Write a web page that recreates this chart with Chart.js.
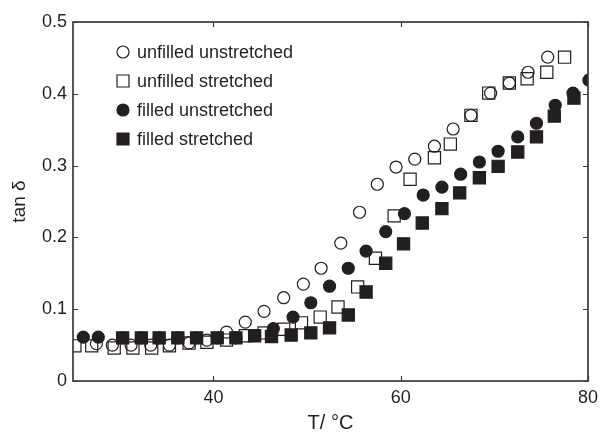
<!DOCTYPE html>
<html lang="en">
<head>
<meta charset="UTF-8">
<title>tan δ vs temperature</title>
<script src="https://cdn.jsdelivr.net/npm/chart.js@4.4.0/dist/chart.umd.min.js"></script>
<style>
    html, body {
        margin: 0;
        padding: 0;
        background: #ffffff;
    }
    #wrap {
        width: 604px;
        height: 435px;
    }
</style>
</head>
<body>
<div id="wrap"><canvas id="tanChart" width="604" height="435"></canvas></div>
<script>
    // tan delta readings per sample, temperature in °C
    const seriesLabels = ['unfilled unstretched', 'unfilled stretched', 'filled unstretched', 'filled stretched'];

    const tUnfilledUnstr = [27.5, 29.2, 31.2, 33.3, 35.3, 37.4, 39.3, 41.4, 43.4, 45.4, 47.5, 49.6, 51.5, 53.6, 55.6, 57.5, 59.5, 61.5, 63.6, 65.6, 67.5, 69.6, 71.6, 73.6, 75.7];
    const tanUnfilledUnstr = [0.052, 0.050, 0.050, 0.050, 0.050, 0.053, 0.057, 0.068, 0.082, 0.097, 0.116, 0.135, 0.157, 0.192, 0.235, 0.274, 0.298, 0.309, 0.327, 0.351, 0.370, 0.401, 0.415, 0.430, 0.451];

    const tUnfilledStr = [25.2, 27.0, 29.4, 31.4, 33.4, 35.3, 37.4, 39.3, 41.4, 43.4, 45.4, 47.5, 49.4, 51.4, 53.3, 55.4, 57.3, 59.3, 61.0, 63.6, 65.3, 67.5, 69.4, 71.6, 73.5, 75.6, 77.5];
    const tanUnfilledStr = [0.049, 0.049, 0.046, 0.046, 0.046, 0.049, 0.053, 0.054, 0.057, 0.063, 0.067, 0.072, 0.081, 0.089, 0.103, 0.131, 0.171, 0.230, 0.281, 0.311, 0.330, 0.370, 0.401, 0.415, 0.421, 0.430, 0.451];

    const tFilledUnstr = [26.1, 27.7, 30.3, 32.3, 34.2, 36.2, 38.2, 40.4, 42.4, 44.4, 46.4, 48.5, 50.4, 52.4, 54.4, 56.3, 58.4, 60.4, 62.4, 64.4, 66.4, 68.4, 70.4, 72.5, 74.5, 76.5, 78.4, 80.1];
    const tanFilledUnstr = [0.061, 0.061, 0.060, 0.060, 0.060, 0.060, 0.060, 0.060, 0.060, 0.063, 0.073, 0.089, 0.109, 0.132, 0.157, 0.181, 0.208, 0.233, 0.259, 0.270, 0.288, 0.305, 0.320, 0.340, 0.359, 0.384, 0.401, 0.419];

    const tFilledStr = [30.3, 32.3, 34.2, 36.2, 38.2, 40.4, 42.4, 44.4, 46.2, 48.3, 50.4, 52.4, 54.4, 56.3, 58.4, 60.3, 62.3, 64.4, 66.3, 68.4, 70.4, 72.5, 74.5, 76.4, 78.5];
    const tanFilledStr = [0.060, 0.060, 0.060, 0.060, 0.060, 0.060, 0.060, 0.063, 0.062, 0.064, 0.067, 0.074, 0.092, 0.124, 0.164, 0.191, 0.220, 0.240, 0.262, 0.283, 0.299, 0.319, 0.340, 0.369, 0.394];

    const xTicks = [40, 60, 80];
    const yTicks = [0, 0.1, 0.2, 0.3, 0.4, 0.5];

    const ink = '#231f20';
    const frameColor = '#3a3a3a';
    const fontFamily = '"Liberation Sans", Arial, Helvetica, sans-serif';

    function pairs(xs, ys) {
        return xs.map((x, i) => ({ x: x, y: ys[i] }));
    }

    // frame around the plot plus short inward ticks on all four sides
    const frameTicks = {
        id: 'frameTicks',
        afterDatasetsDraw(chart) {
            const { ctx, chartArea: a, scales } = chart;
            const len = 5;
            ctx.save();
            ctx.strokeStyle = frameColor;
            ctx.lineWidth = 1.2;
            ctx.beginPath();
            scales.x.ticks.forEach(t => {
                const px = Math.round(scales.x.getPixelForValue(t.value)) + 0.5;
                ctx.moveTo(px, a.bottom); ctx.lineTo(px, a.bottom - len);
                ctx.moveTo(px, a.top); ctx.lineTo(px, a.top + len);
            });
            scales.y.ticks.forEach(t => {
                const py = Math.round(scales.y.getPixelForValue(t.value)) + 0.5;
                ctx.moveTo(a.left, py); ctx.lineTo(a.left + len, py);
                ctx.moveTo(a.right, py); ctx.lineTo(a.right - len, py);
            });
            ctx.stroke();
            ctx.lineWidth = 1.7;
            ctx.strokeRect(a.left, a.top, a.right - a.left, a.bottom - a.top);
            ctx.restore();
        }
    };

    // legend in the upper left corner of the plot
    const innerLegend = {
        id: 'innerLegend',
        afterDraw(chart) {
            const ctx = chart.ctx;
            const mx = 123, tx = 137, y0 = 52, step = 29;
            ctx.save();
            ctx.font = '18px ' + fontFamily;
            ctx.textBaseline = 'middle';
            ctx.textAlign = 'left';
            chart.data.datasets.forEach((ds, i) => {
                const y = y0 + i * step;
                ctx.beginPath();
                if (ds.pointStyle === 'circle') {
                    ctx.arc(mx, y, 6, 0, Math.PI * 2);
                } else {
                    ctx.rect(mx - 6, y - 6, 12, 12);
                }
                ctx.fillStyle = ds.pointBackgroundColor;
                ctx.fill();
                ctx.lineWidth = 1.2;
                ctx.strokeStyle = ink;
                ctx.stroke();
                ctx.fillStyle = ink;
                ctx.fillText(ds.label, tx, y + 1);
            });
            ctx.restore();
        }
    };

    function series(label, xs, ys, style, filled) {
        return {
            label: label,
            data: pairs(xs, ys),
            pointStyle: style,
            pointRadius: style === 'circle' ? 6 : 8.6,
            pointBorderWidth: 1.2,
            pointBorderColor: ink,
            pointBackgroundColor: filled ? ink : 'rgba(0,0,0,0)',
            showLine: false
        };
    }

    new Chart(document.getElementById('tanChart'), {
        type: 'scatter',
        data: {
            datasets: [
                series(seriesLabels[0], tUnfilledUnstr, tanUnfilledUnstr, 'circle', false),
                series(seriesLabels[1], tUnfilledStr, tanUnfilledStr, 'rect', false),
                series(seriesLabels[2], tFilledUnstr, tanFilledUnstr, 'circle', true),
                series(seriesLabels[3], tFilledStr, tanFilledStr, 'rect', true)
            ]
        },
        options: {
            responsive: false,
            animation: false,
            layout: { padding: { top: 22, right: 11, left: 0, bottom: 0 } },
            plugins: {
                legend: { display: false },
                tooltip: { enabled: false }
            },
            scales: {
                x: {
                    type: 'linear',
                    min: 25,
                    max: 80,
                    afterBuildTicks: s => { s.ticks = xTicks.map(v => ({ value: v })); },
                    afterFit: s => { s.height = 54; },
                    grid: { display: false, drawTicks: false },
                    border: { display: false },
                    ticks: { padding: 6, color: ink, font: { family: fontFamily, size: 18 } },
                    title: {
                        display: true,
                        text: 'T/ °C',
                        color: ink,
                        padding: { top: 0, bottom: 0 },
                        font: { family: fontFamily, size: 20 }
                    }
                },
                y: {
                    type: 'linear',
                    min: 0,
                    max: 0.5,
                    afterBuildTicks: s => { s.ticks = yTicks.map(v => ({ value: v })); },
                    afterFit: s => { s.width = 73; },
                    grid: { display: false, drawTicks: false },
                    border: { display: false },
                    ticks: {
                        padding: 6,
                        color: ink,
                        font: { family: fontFamily, size: 18 },
                        callback: v => String(Math.round(v * 10) / 10)
                    },
                    title: {
                        display: true,
                        text: 'tan δ',
                        color: ink,
                        padding: { top: 8, bottom: 0 },
                        font: { family: fontFamily, size: 19 }
                    }
                }
            }
        },
        plugins: [frameTicks, innerLegend]
    });
</script>
</body>
</html>
